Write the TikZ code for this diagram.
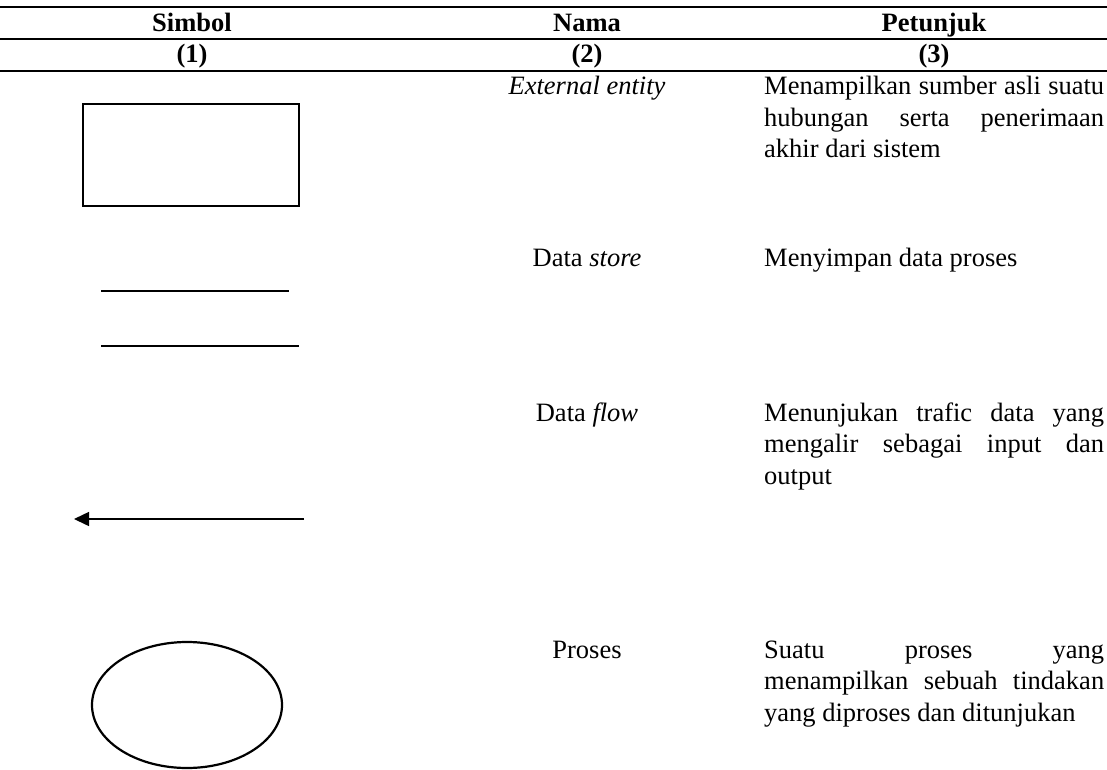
\documentclass[tikz,border=0pt]{standalone}
\usepackage{fontspec}
\setmainfont{Liberation Serif}
\usetikzlibrary{arrows.meta,shapes.geometric}

\begin{document}
\begin{tikzpicture}[x=1pt,y=-1pt,
    hdr/.style={font=\fontsize{26.5}{31.5}\selectfont\bfseries,anchor=base,inner sep=0pt},
    nama/.style={font=\fontsize{26.5}{31.5}\selectfont,anchor=base,inner sep=0pt},
    ket/.style={font=\fontsize{26.5}{31.5}\selectfont,
      anchor=base west,inner sep=0pt,text width=340pt,align=justify},
    simbol/.style={draw,line width=2.8pt,inner sep=0pt}]
  \useasboundingbox (0,0) rectangle (1107,770);

  % garis tabel
  \draw[line width=2.4pt] (0,7) -- (1107,7);
  \draw[line width=2pt] (0,39) -- (1107,39);
  \draw[line width=2pt] (0,71) -- (1107,71);

  % kepala tabel
  \node[hdr] (hsimbol) at (192,32) {Simbol};
  \node[hdr] (hnama) at (587,32) {Nama};
  \node[hdr] (hpetunjuk) at (934,32) {Petunjuk};
  \node[hdr] (no1) at (192,63) {(1)};
  \node[hdr] (no2) at (587,63) {(2)};
  \node[hdr] (no3) at (934,63) {(3)};

  % kolom nama
  \node[nama] (nama1) at (587,95) {\textit{External entity}};
  \node[nama] (nama2) at (587,266) {Data \textit{store}};
  \node[nama] (nama3) at (587,421) {Data \textit{flow}};
  \node[nama] (nama4) at (587,658) {Proses};

  % kolom petunjuk
  \node[ket] (ket1) at (764,95)
    {Menampilkan sumber asli suatu\linebreak
     hubungan serta penerimaan\linebreak
     akhir dari sistem};
  \node[ket] (ket2) at (764,266) {Menyimpan data proses};
  \node[ket] (ket3) at (764,421)
    {Menunjukan trafic data yang\linebreak
     mengalir sebagai input dan\linebreak
     output};
  \node[ket] (ket4) at (764,658)
    {Suatu proses yang\linebreak
     menampilkan sebuah tindakan\linebreak
     yang diproses dan ditunjukan};

  % simbol
  \node[simbol,rectangle,minimum width=216pt,minimum height=102pt]
    (entity) at (191,155) {};

  \coordinate (store1a) at (101,291);
  \coordinate (store1b) at (289,291);
  \coordinate (store2a) at (101,346);
  \coordinate (store2b) at (299,346);
  \draw[line width=1.5pt] (store1a) -- (store1b);
  \draw[line width=1.5pt] (store2a) -- (store2b);

  \coordinate (flowa) at (304,519);
  \coordinate (flowb) at (74,519);
  \draw[line width=1.5pt,-{Triangle[length=15pt,width=14pt]}] (flowa) -- (flowb);

  \node[simbol,ellipse,line width=2.2pt,minimum width=190pt,minimum height=126pt]
    (proses) at (187,705) {};
\end{tikzpicture}
\end{document}
